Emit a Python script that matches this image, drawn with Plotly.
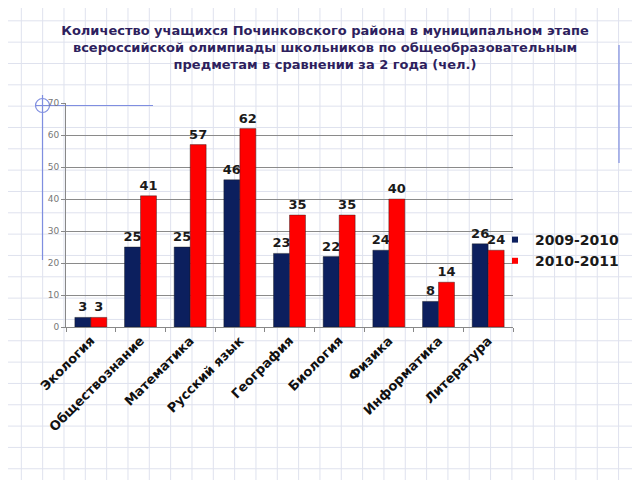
import plotly.graph_objects as go

categories = ["Экология", "Обществознание", "Математика", "Русский язык", "География",
              "Биология", "Физика", "Информатика", "Литература"]
series_names = ["2009-2010", "2010-2011"]
values_2009 = [3, 25, 25, 46, 23, 22, 24, 8, 26]
values_2010 = [3, 41, 57, 62, 35, 35, 40, 14, 24]
y_ticks = [0, 10, 20, 30, 40, 50, 60, 70]

NAVY = "#0c1f5e"
RED = "#ff0000"

OFF = 8  # page body margin
W, H = 640, 480
# plot area in page pixels: x 66..513, y 103..327
ML = 66 - OFF
MR = W - (513 - OFF)
MT = 103 - OFF
MB = H - (327 - OFF)
PW, PH = W - ML - MR, H - MT - MB

def px(x):  # page pixel -> paper
    return (x - OFF - ML) / PW

def py(y):
    return (H - MB - (y - OFF)) / PH

fig = go.Figure()
for name, vals, col in [(series_names[0], values_2009, NAVY), (series_names[1], values_2010, RED)]:
    fig.add_trace(go.Bar(
        x=categories, y=vals, name=name, showlegend=False,
        marker=dict(color=col, line=dict(color="#1a1a1a", width=0.4)),
        text=vals, textposition="outside", constraintext="none", cliponaxis=False,
        textfont=dict(family="DejaVu Sans", size=13, color="#1a1a1a", weight="bold"),
    ))
    fig.add_trace(go.Scatter(
        x=[None], y=[None], mode="markers", name=name,
        marker=dict(symbol="square", size=6, color=col),
    ))

shapes = []
grid_col = "#dfe2ee"
step = 21.33
k = 0
while k * step <= W + OFF:
    x = k * step
    shapes.append(dict(type="line", xref="paper", yref="paper", x0=px(x), x1=px(x),
                       y0=py(0), y1=py(H + OFF), line=dict(color=grid_col, width=1), layer="below"))
    k += 1
k = 0
while k * step <= H + OFF:
    y = k * step - 0.5
    shapes.append(dict(type="line", xref="paper", yref="paper", x0=px(0), x1=px(W + OFF),
                       y0=py(y), y1=py(y), line=dict(color=grid_col, width=1), layer="below"))
    k += 1

blue = "#7f8ee0"
shapes += [
    dict(type="line", xref="paper", yref="paper", x0=px(42.5), x1=px(42.5), y0=py(95), y1=py(260),
         line=dict(color=blue, width=1.2), layer="below"),
    dict(type="line", xref="paper", yref="paper", x0=px(35), x1=px(153), y0=py(105.5), y1=py(105.5),
         line=dict(color=blue, width=1.2), layer="below"),
    dict(type="circle", xref="paper", yref="paper", x0=px(35.5), x1=px(49.5), y0=py(98.5), y1=py(112.5),
         line=dict(color=blue, width=1.2), layer="below"),
    dict(type="line", xref="paper", yref="paper", x0=px(619), x1=px(619), y0=py(45), y1=py(163),
         line=dict(color=blue, width=1.2), layer="below"),
]

fig.update_layout(
    width=W, height=H,
    margin=dict(l=ML, r=MR, t=MT, b=MB, autoexpand=False),
    paper_bgcolor="white", plot_bgcolor="rgba(0,0,0,0)",
    barmode="group", bargap=0.356, bargroupgap=0,
    title=dict(
        text="Количество учащихся Починковского района в муниципальном этапе<br>"
             "всероссийской олимпиады школьников по общеобразовательным<br>"
             "предметам в сравнении за 2 года (чел.)",
        x=317 / W, xanchor="center", xref="container",
        y=1 - 27 / H, yanchor="top", yref="container",
        font=dict(family="DejaVu Sans", size=13, color="#2e1f5e", weight="bold"),
    ),
    legend=dict(
        x=px(495), y=py(224), xanchor="left", yanchor="top",
        font=dict(family="DejaVu Sans", size=14, color="#1a1a1a", weight="bold"),
        bgcolor="rgba(0,0,0,0)", itemwidth=30, tracegroupgap=0,
    ),
    shapes=shapes,
    showlegend=True,
)
fig.update_xaxes(
    tickangle=-45, tickson="boundaries", ticks="outside", ticklen=4, tickcolor="#888",
    showline=True, linecolor="#888", linewidth=1,
    tickfont=dict(family="DejaVu Sans", size=13, color="#111", weight="bold"),
    showgrid=False,
)
fig.update_yaxes(
    range=[0, 70], tickvals=y_ticks, ticks="outside", ticklen=4, tickcolor="#888",
    showline=True, linecolor="#888", linewidth=1,
    showgrid=True, gridcolor="#8a8a8a", gridwidth=1,
    tickfont=dict(family="DejaVu Sans", size=9, color="#777"),
    zeroline=False,
)
fig.write_html("out.html")
